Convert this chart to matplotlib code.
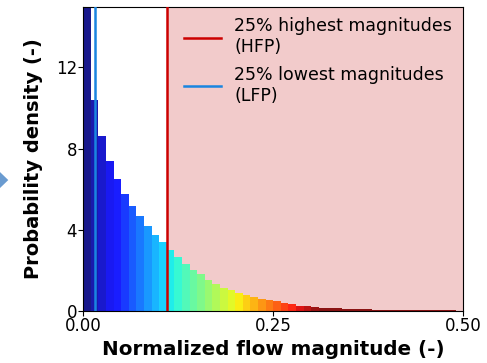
import numpy as np
import matplotlib
matplotlib.use("Agg")
import matplotlib.pyplot as plt
from matplotlib.patches import Polygon

# histogram bins (normalized flow magnitude), width 0.01
bin_edges = np.round(np.arange(0.0, 0.491, 0.01), 2)
density = [17.0, 10.4, 8.63, 7.41, 6.53, 5.79, 5.19, 4.69, 4.20, 3.77,
           3.41, 3.00, 2.67, 2.34, 2.04, 1.81, 1.55, 1.32, 1.14, 1.02,
           0.89, 0.77, 0.69, 0.59, 0.53, 0.48, 0.40, 0.33, 0.26, 0.23,
           0.20, 0.16, 0.15, 0.13, 0.12, 0.115, 0.11, 0.105, 0.06, 0.055,
           0.05, 0.05, 0.045, 0.045, 0.04, 0.04, 0.035, 0.035, 0.03]

lfp_threshold = 0.015   # 25% lowest magnitudes
hfp_threshold = 0.11    # 25% highest magnitudes
x_max = 0.50

fig = plt.figure(figsize=(4.87, 3.63), dpi=100)
ax = fig.add_axes([0.171, 0.143, 0.780, 0.839])

# bars coloured by jet colormap
norm = plt.Normalize(vmin=0.005, vmax=0.31)
centers = bin_edges[:-1] + 0.005
colors = plt.cm.jet(norm(centers))
ax.bar(bin_edges[:-1], density, width=0.01, align='edge',
       color=colors, alpha=0.9, linewidth=0, zorder=2)

# shaded HFP region
ax.axvspan(hfp_threshold, x_max, color='#f2cbcb', zorder=1, linewidth=0)
ax.axvline(hfp_threshold, color='#cc0000', lw=1.8, zorder=3,
           label='25% highest magnitudes\n(HFP)')
ax.axvline(lfp_threshold, color='#1a85e0', lw=1.8, zorder=3,
           label='25% lowest magnitudes\n(LFP)')

ax.set_xlim(0, x_max)
ax.set_ylim(0, 15)
ax.set_xticks([0.0, 0.25, 0.5])
ax.set_xticklabels(['0.00', '0.25', '0.50'])
ax.set_yticks([0, 4, 8, 12])
ax.tick_params(axis='both', labelsize=12, length=3.5, pad=1)
ax.set_xlabel('Normalized flow magnitude (-)', fontsize=14.3,
              fontweight='bold', labelpad=3.5)
ax.set_ylabel('Probability density (-)', fontsize=14,
              fontweight='bold', labelpad=9.5)

ax.legend(loc='upper right', frameon=False, fontsize=12.5,
          handlelength=2.1, handletextpad=0.8, labelspacing=0.58,
          borderaxespad=0.2, borderpad=0.42)

# small arrow from neighbouring panel
fig.patches.append(Polygon([[0.0, 0.482], [0.017, 0.504], [0.0, 0.526]],
                           closed=True, transform=fig.transFigure,
                           facecolor='#6a9bd0', edgecolor='none'))

plt.savefig('out.png', dpi=100)
